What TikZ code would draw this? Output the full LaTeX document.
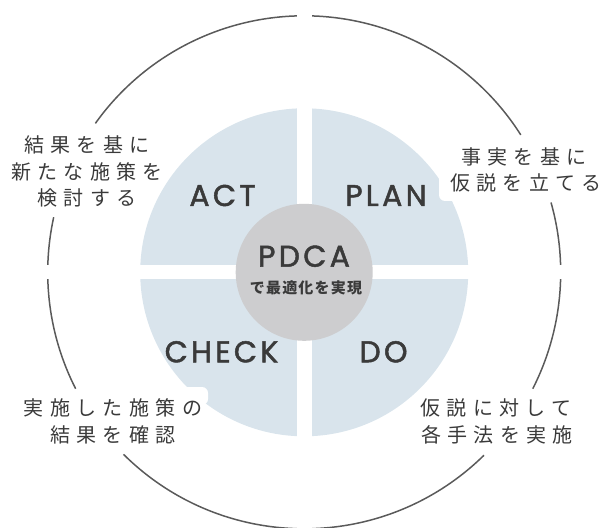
\documentclass[tikz,border=0pt]{standalone}
\usepackage{fontspec}
\usetikzlibrary{calc}
\newfontfamily\jp{Noto Sans CJK JP}[LetterSpace=32]
\newfontfamily\jpsub{Noto Sans CJK JP}[LetterSpace=8]
\newfontfamily\lat{Poppins}[LetterSpace=11,FakeBold=1.6]
\definecolor{quad}{HTML}{D9E4EC}
\definecolor{hub}{HTML}{CDCDCF}
\definecolor{ink}{HTML}{3A3A3A}
\definecolor{ringc}{HTML}{5A5A5A}
\tikzset{
  ring/.style={draw=ringc,line width=1.5pt},
  phase/.style={font=\lat\fontsize{30}{30}\selectfont,text=ink,inner sep=0pt,anchor=base},
  note/.style={font=\jp\fontsize{20}{26}\selectfont,text=ink,inner sep=0pt,anchor=base},
  hubtitle/.style={font=\lat\fontsize{30}{30}\selectfont,text=ink,inner sep=0pt,anchor=base},
  hubsub/.style={font=\jpsub\bfseries\fontsize{15}{15}\selectfont,text=ink,inner sep=0pt,anchor=base}
}
\begin{document}
\begin{tikzpicture}[x=1pt,y=1pt]
\useasboundingbox (0,0) rectangle (601,527);
\coordinate (c) at (304.2,254.7);
% blue quadrant disc
\fill[quad] (c) circle (164);
% outer ring with gaps for the notes
\draw[ring] ($(c)+(32.4:256.5)$) arc[start angle=32.4,end angle=144.5,radius=256.5];
\draw[ring] ($(c)+(167.6:256.5)$) arc[start angle=167.6,end angle=207,radius=256.5];
\draw[ring] ($(c)+(225.2:256.5)$) arc[start angle=225.2,end angle=314.5,radius=256.5];
\draw[ring] ($(c)+(333:256.5)$) arc[start angle=333,end angle=375.8,radius=256.5];
% white cross
\fill[white] ($(c)+(-7.5,-300)$) rectangle ($(c)+(7.5,300)$);
\fill[white] ($(c)+(-330,-7.2)$) rectangle ($(c)+(330,7.2)$);
% small white bites under the notes
\fill[white,rounded corners=6pt] (439,356) rectangle (463,326);
\fill[white,rounded corners=6pt] (180,140) rectangle (208,122);
% hub
\fill[hub] (c) circle (68.5);
% texts
\node[hubtitle] (pdca) at (304,260.3) {PDCA};
\node[hubsub] (sub) at (306,233.3) {で最適化を実現};
\node[phase] (act) at (222.5,321) {ACT};
\node[phase] (plan) at (386,321) {PLAN};
\node[phase] (check) at (221.5,164.7) {CHECK};
\node[phase] (do) at (383.5,164.7) {DO};
\node[note] (tl1) at (87,374.4) {結果を基に};
\node[note] (tl2) at (87,347.7) {新たな施策を};
\node[note] (tl3) at (87,321.4) {検討する};
\node[note] (tr1) at (524,362.7) {事実を基に};
\node[note] (tr2) at (526,336.1) {仮説を立てる};
\node[note] (bl1) at (113,111.4) {実施した施策の};
\node[note] (bl2) at (113,84.4) {結果を確認};
\node[note] (br1) at (496,111.4) {仮説に対して};
\node[note] (br2) at (497,84.4) {各手法を実施};
\end{tikzpicture}
\end{document}
